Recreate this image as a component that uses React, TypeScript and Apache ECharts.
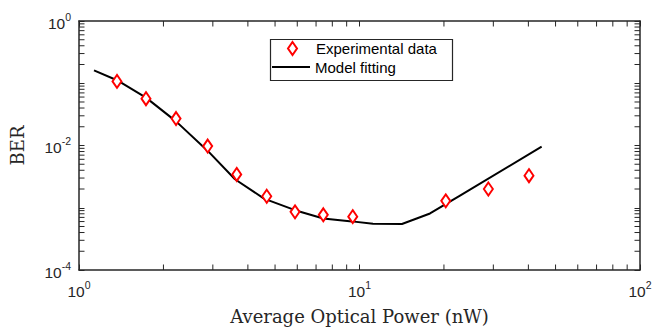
import React, { useEffect, useRef } from "react";
import * as echarts from "echarts";

// Experimental data (average optical power in nW, BER)
const expPower = [1.366, 1.733, 2.218, 2.876, 3.65, 4.67, 5.89, 7.43, 9.46, 20.3, 28.8, 40.2];
const expBer = [0.107, 0.0565, 0.0271, 0.0098, 0.00343, 0.00153, 0.00086, 0.00077, 0.00072, 0.00129, 0.002, 0.00327];

// Model fitting curve
const fitPower = [1.131, 1.366, 1.733, 2.218, 2.884, 3.598, 4.566, 5.89, 7.43, 9.4, 11.17, 14.17, 17.84, 22.82, 44.6];
const fitBer = [0.1614, 0.1119, 0.0587, 0.0244, 0.00811, 0.00287, 0.001404, 0.000914, 0.000674, 0.000604, 0.000555, 0.000547, 0.00081, 0.001568, 0.00957];

// Axis ranges
const xRange = [1, 100];
const yRange = [1e-4, 1];
const xMinorTicks = [2, 3, 4, 5, 6, 7, 8, 9, 20, 30, 40, 50, 60, 70, 80, 90];
const yMinorTicks = [
  2e-4, 3e-4, 4e-4, 5e-4, 6e-4, 7e-4, 8e-4, 9e-4,
  2e-3, 3e-3, 4e-3, 5e-3, 6e-3, 7e-3, 8e-3, 9e-3,
  2e-2, 3e-2, 4e-2, 5e-2, 6e-2, 7e-2, 8e-2, 9e-2,
  2e-1, 3e-1, 4e-1, 5e-1, 6e-1, 7e-1, 8e-1, 9e-1,
];

const AX = "#262626";
const TICK = 5.5;

const richLabel = {
  b: { fontSize: 15.5, fontFamily: "Liberation Sans", color: AX, lineHeight: 20, verticalAlign: "bottom" },
  s: { fontSize: 10.5, fontFamily: "Liberation Sans", color: AX, lineHeight: 11, verticalAlign: "top" },
};

function expLabel(v: number, onlyEven: boolean) {
  const e = Math.round(Math.log10(v));
  if (onlyEven && e % 2 !== 0) return "";
  return `{b|10}{s|${e}}`;
}

export default function App() {
  const ref = useRef<HTMLDivElement>(null);
  useEffect(() => {
    if (!ref.current) return;
    const chart = echarts.init(ref.current, undefined, { renderer: "svg" });
    const axisCommon = {
      type: "log" as const,
      logBase: 10,
      axisLine: { show: true, onZero: false, lineStyle: { color: AX, width: 1.5 } },
      axisTick: { show: true, inside: true, length: TICK, lineStyle: { color: AX, width: 1 } },
      splitLine: { show: false },
      minorTick: { show: false },
    };
    chart.setOption({
      animation: false,
      backgroundColor: "#ffffff",
      grid: { left: 79, right: 15, top: 21, bottom: 58, containLabel: false },
      legend: [
        {
          data: ["Experimental data"],
          left: 287,
          top: 41,
          itemWidth: 9,
          itemHeight: 13,
          padding: 0,
          textStyle: { fontFamily: "Liberation Sans", fontSize: 15, color: "#000", padding: [0, 0, 0, 14] },
        },
        {
          data: [{ name: "Model fitting", icon: "rect" }],
          left: 272,
          top: 59.5,
          itemWidth: 38,
          itemHeight: 2,
          padding: 0,
          itemStyle: { color: "#000", borderWidth: 0 },
          textStyle: { fontFamily: "Liberation Sans", fontSize: 15, color: "#000" },
        },
      ],
      xAxis: [
        {
          ...axisCommon,
          position: "bottom",
          min: xRange[0],
          max: xRange[1],
          name: "Average Optical Power (nW)",
          nameLocation: "middle",
          nameGap: 37,
          nameTextStyle: { fontFamily: "DejaVu Serif", fontSize: 18, color: AX },
          axisLabel: { margin: 9, formatter: (v: number) => expLabel(v, false), rich: richLabel },
        },
        {
          ...axisCommon,
          position: "top",
          min: xRange[0],
          max: xRange[1],
          axisLabel: { show: false },
        },
      ],
      yAxis: [
        {
          ...axisCommon,
          position: "left",
          min: yRange[0],
          max: yRange[1],
          name: "BER",
          nameLocation: "middle",
          nameGap: 53,
          nameTextStyle: { fontFamily: "DejaVu Serif", fontSize: 18, color: AX },
          axisLabel: { margin: 8, formatter: (v: number) => expLabel(v, true), rich: richLabel },
        },
        {
          ...axisCommon,
          position: "right",
          min: yRange[0],
          max: yRange[1],
          axisLabel: { show: false },
        },
      ],
      graphic: [
        {
          type: "rect",
          left: 268,
          top: 37,
          shape: { width: 182, height: 41 },
          style: { fill: "none", stroke: AX, lineWidth: 1.2 },
          z: 100,
        },
      ],
      series: [
        {
          name: "Model fitting",
          type: "line",
          data: fitPower.map((x, i) => [x, fitBer[i]]),
          symbol: "none",
          showSymbol: false,
          lineStyle: { color: "#000", width: 2 },
          itemStyle: { color: "#000" },
          z: 3,
        },
        {
          name: "Experimental data",
          type: "scatter",
          data: expPower.map((x, i) => [x, expBer[i]]),
          symbol: "diamond",
          symbolSize: [9, 13],
          itemStyle: { color: "#ffffff", borderColor: "#ff0000", borderWidth: 2, opacity: 1 },
          z: 4,
        },
        {
          type: "custom",
          silent: true,
          data: xMinorTicks.map((v) => [v, yRange[0]]),
          renderItem: (_p: any, api: any) => {
            const v = api.value(0);
            const b = api.coord([v, yRange[0]]);
            const t = api.coord([v, yRange[1]]);
            const style = { stroke: AX, lineWidth: 1 };
            return {
              type: "group",
              children: [
                { type: "line", shape: { x1: b[0], y1: b[1], x2: b[0], y2: b[1] - TICK }, style },
                { type: "line", shape: { x1: t[0], y1: t[1], x2: t[0], y2: t[1] + TICK }, style },
              ],
            };
          },
          z: 5,
        },
        {
          type: "custom",
          silent: true,
          data: yMinorTicks.map((v) => [xRange[0], v]),
          renderItem: (_p: any, api: any) => {
            const v = api.value(1);
            const l = api.coord([xRange[0], v]);
            const r = api.coord([xRange[1], v]);
            const style = { stroke: AX, lineWidth: 1 };
            return {
              type: "group",
              children: [
                { type: "line", shape: { x1: l[0], y1: l[1], x2: l[0] + TICK, y2: l[1] }, style },
                { type: "line", shape: { x1: r[0], y1: r[1], x2: r[0] - TICK, y2: r[1] }, style },
              ],
            };
          },
          z: 5,
        },
      ],
    });
    return () => chart.dispose();
  }, []);
  return <div ref={ref} style={{ position: "fixed", left: 0, top: 0, width: 655, height: 330 }} />;
}
